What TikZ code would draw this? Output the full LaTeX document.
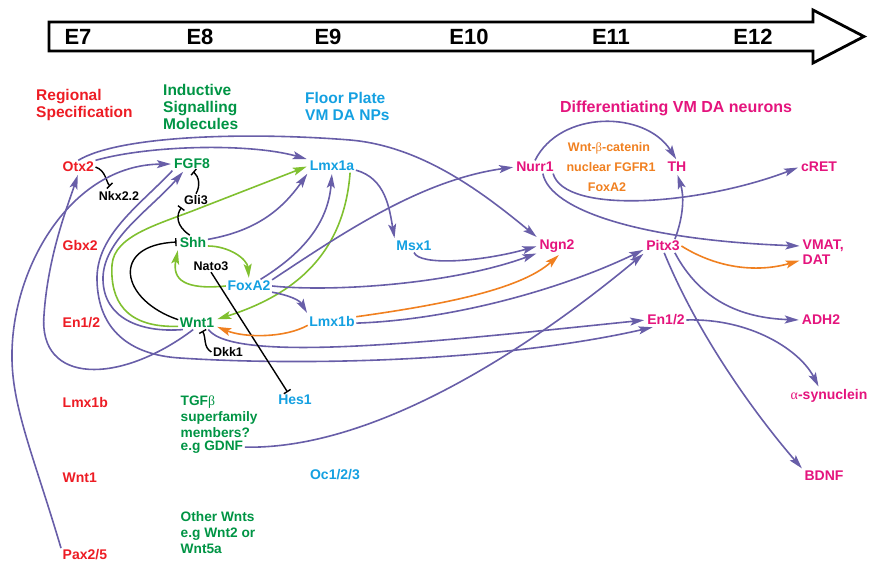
\documentclass[tikz,border=0pt]{standalone}
\usepackage{fontspec}
\setmainfont{Liberation Sans}
\newfontfamily\grk{Liberation Serif}
\usepackage{tikz}
\usetikzlibrary{arrows.meta,positioning}
\definecolor{regred}{RGB}{237,28,36}
\definecolor{indgreen}{RGB}{0,148,68}
\definecolor{fpblue}{RGB}{20,160,225}
\definecolor{difpink}{RGB}{228,20,125}
\definecolor{netpurple}{RGB}{104,94,168}
\definecolor{limegreen}{RGB}{128,192,48}
\definecolor{netorange}{RGB}{240,128,32}

\begin{document}
\begin{tikzpicture}[x=1pt, y=1pt,
  lab/.style={font=\bfseries\fontsize{14}{16}\selectfont, inner sep=1.5pt},
  head/.style={font=\bfseries\fontsize{15.5}{17}\selectfont, align=left, inner sep=0pt, anchor=west},
  reg/.style={lab, text=regred, anchor=west},
  ind/.style={lab, text=indgreen},
  grp/.style={lab, text=indgreen, align=left, anchor=north west, font=\bfseries\fontsize{13.7}{16}\selectfont},
  fp/.style={lab, text=fpblue},
  dif/.style={lab, text=difpink},
  mod/.style={lab, font=\bfseries\fontsize{12.5}{14}\selectfont},
  cof/.style={mod, text=netorange},
  tl/.style={font=\bfseries\fontsize{22}{24}\selectfont},
  arr/.style={draw=netpurple, line width=1.6pt, shorten >=1.5pt, -{Stealth[length=14pt,width=8pt,inset=3pt]}},
  garr/.style={arr, draw=limegreen},
  oarr/.style={arr, draw=netorange},
  blk/.style={draw=black, line width=1.4pt, shorten >=1.5pt, -{Bar[width=8pt,line width=1.4pt]}}
]
\useasboundingbox (0,0) rectangle (869,-562);

\draw[line width=2.8pt, fill=white] (49,-22) -- (813,-22) -- (813,-10) -- (864,-36.5) -- (813,-63) -- (813,-51) -- (49,-51) -- cycle;
\foreach \x/\e in {78/E7,200/E8,328/E9,469/E10,611/E11,753/E12}
  \node[tl] (\e) at (\x,-37) {\e};

\node[head, text=regred] (hreg) at (36,-105) {Regional\\Specification};
\node[head, text=indgreen] (hind) at (163,-107) {Inductive\\Signalling\\Molecules};
\node[head, text=fpblue] (hfp) at (305,-106) {Floor Plate\\VM DA NPs};
\node[head, anchor=center, text=difpink, font=\bfseries\fontsize{16}{18}\selectfont] (hdif) at (676,-108) {Differentiating VM DA neurons};

\node[reg] (otx) at (61,-167) {Otx2};
\node[reg] (gbx) at (61,-245) {Gbx2};
\node[reg] (enreg) at (61,-323) {En1/2};
\node[reg] (lmxbreg) at (61,-402) {Lmx1b};
\node[reg] (wntreg) at (61,-478) {Wnt1};
\node[reg] (pax) at (61,-555) {Pax2/5};

\node[mod] (nkx) at (119,-196) {Nkx2.2};
\node[ind] (fgf) at (192,-164) {FGF8};
\node[mod] (gli) at (196,-200) {Gli3};
\node[ind] (shh) at (193,-242) {Shh};
\node[mod] (nato) at (211,-266) {Nato3};
\node[fp] (foxa) at (249,-286) {FoxA2};
\node[ind] (wntind) at (197,-323) {Wnt1};
\node[mod] (dkk) at (228,-352) {Dkk1};
\node[fp] (hes) at (295,-400) {Hes1};
\node[grp] (tgf) at (179,-394) {TGF{\grk\mdseries β}\\superfamily\\members?};
\node[grp, below=0pt of tgf.south west, anchor=north west] (gdnf) {e.g GDNF};
\node[grp, anchor=west] (othw) at (179,-533) {Other Wnts\\e.g Wnt2 or\\Wnt5a};

\node[fp] (lmxa) at (332,-166) {Lmx1a};
\node[fp] (msx) at (414,-246) {Msx1};
\node[fp] (lmxbfp) at (332,-321) {Lmx1b};
\node[fp] (oc) at (335,-475) {Oc1/2/3};

\node[dif] (nurr) at (535,-167) {Nurr1};
\node[dif] (th) at (677,-167) {TH};
\node[cof] (wbc) at (609,-148) {Wnt-{\grk\mdseries β}-catenin};
\node[cof] (fgfr) at (611,-167) {nuclear FGFR1};
\node[cof] (foxcof) at (607,-187) {FoxA2};
\node[dif] (cret) at (819,-167) {cRET};
\node[dif] (ngn) at (557,-246) {Ngn2};
\node[dif] (pitx) at (663,-246) {Pitx3};
\node[dif, anchor=west] (vmat) at (801,-246) {VMAT,};
\node[dif, below=0pt of vmat.south west, anchor=north west] (dat) {DAT};
\node[dif] (en2) at (666,-320) {En1/2};
\node[dif] (adh) at (821,-320) {ADH2};
\node[dif] (syn) at (829,-396) {{\grk\mdseries α}-synuclein};
\node[dif] (bdnf) at (824,-476) {BDNF};

\draw[arr] (otx.north east) .. controls (150,-145) and (250,-143) .. (lmxa.north west);
\draw[arr] (otx.north) .. controls (120,-135) and (250,-132) .. (350,-140) .. controls (420,-146) and (480,-190) .. (ngn.north west);
\draw[blk, shorten >=5pt] (otx.east) to[out=-20,in=135] (nkx.130);
\draw[arr] (pax.north west) .. controls (35,-460) and (13,-410) .. (12,-360) .. controls (10,-270) and (70,-165) .. (fgf.west);
\draw[arr] (wntind.-120) .. controls (120,-385) and (38,-385) .. (44,-315) .. controls (48,-255) and (68,-205) .. (otx.south);
\draw[arr] (wntind.205) .. controls (140,-333) and (104,-318) .. (103,-280) .. controls (102,-240) and (150,-210) .. (fgf.-140);
\draw[arr] (fgf.south west) .. controls (140,-205) and (96,-235) .. (97,-280) .. controls (98,-330) and (130,-355) .. (180,-358) .. controls (300,-366) and (500,-362) .. (en2.-150);
\draw[arr] (wntind.-30) .. controls (235,-365) and (450,-340) .. (en2.west);

\draw[garr] (wntind.190) .. controls (125,-328) and (110,-300) .. (112,-265) .. controls (114,-235) and (160,-224) .. (200,-208) -- (lmxa.west);
\draw[garr] (lmxa.-20) .. controls (345,-240) and (310,-290) .. (wntind.10);
\draw[garr] (shh.-15) to[out=0,in=95] (foxa.north);
\draw[garr] (foxa.west) .. controls (185,-290) and (172,-280) .. (shh.south west);

\draw[blk] (wntind.170) .. controls (120,-300) and (110,-245) .. (shh.west);
\draw[blk] (shh.115) .. controls (176,-226) and (176,-215) .. (gli.south west);
\draw[blk] (gli.north) to[bend right=40] (fgf.south);
\draw[blk] (nato.south) -- (hes.135);
\draw[blk] (dkk.west) to[out=150,in=-60] (wntind.-55);

\draw[arr] (shh.10) to[out=10,in=-125] (lmxa.south west);
\draw[arr] (foxa.30) .. controls (300,-255) and (328,-225) .. (lmxa.south);
\draw[arr] (foxa.15) .. controls (340,-235) and (420,-180) .. (nurr.west);
\draw[arr] (foxa.0) .. controls (330,-292) and (450,-285) .. (ngn.-160);
\draw[arr] (foxa.-15) to[out=-10,in=120] (lmxbfp.north west);
\draw[arr] (lmxa.-10) to[out=-15,in=100] (msx.north west);
\draw[arr] (msx.south) .. controls (420,-266) and (480,-262) .. (ngn.west);
\draw[oarr] (lmxbfp.190) .. controls (285,-338) and (245,-338) .. (wntind.-10);
\draw[oarr] (lmxbfp.10) .. controls (440,-305) and (520,-290) .. (ngn.-70);
\draw[arr] (lmxbfp.-5) .. controls (450,-320) and (560,-290) .. (pitx.-170);
\draw[arr] (gdnf.east) .. controls (380,-450) and (540,-340) .. (pitx.south west);

\draw[arr] (nurr.north) .. controls (560,-110) and (645,-110) .. (th.north);
\draw[arr] (nurr.-20) .. controls (565,-215) and (700,-205) .. (cret.west);
\draw[arr] (nurr.-40) .. controls (550,-210) and (640,-240) .. (vmat.west);
\draw[arr] (pitx.30) .. controls (684,-215) and (684,-195) .. (th.south);
\draw[oarr] (pitx.east) .. controls (720,-270) and (760,-272) .. (dat.west);
\draw[arr] (pitx.-30) .. controls (700,-300) and (740,-318) .. (adh.west);
\draw[arr] (pitx.-80) .. controls (700,-340) and (760,-420) .. (bdnf.north west);
\draw[arr] (en2.east) .. controls (750,-318) and (800,-350) .. (syn.140);
\end{tikzpicture}
\end{document}
